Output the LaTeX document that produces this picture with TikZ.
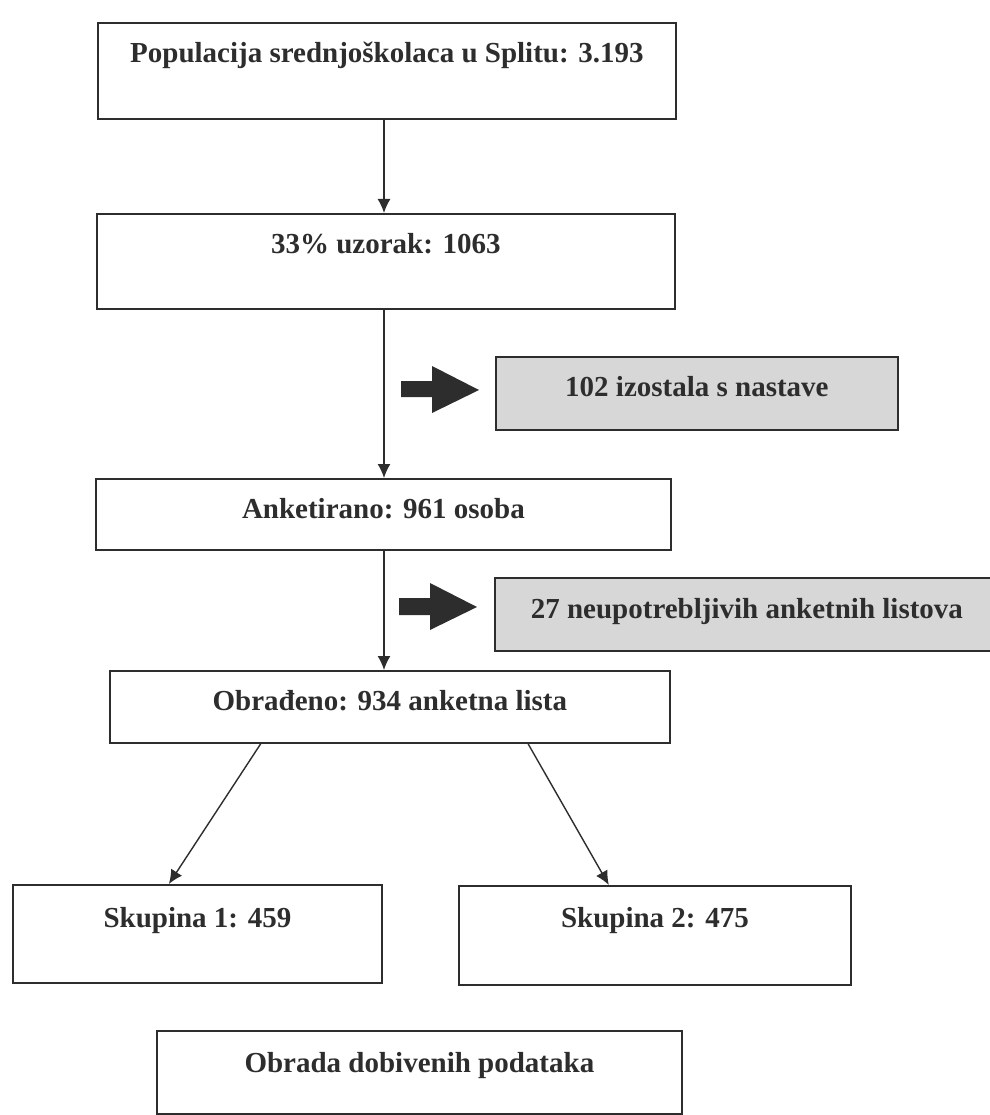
\documentclass[tikz,border=0pt]{standalone}
\usepackage{fontspec}
\setmainfont{Liberation Serif}
\usetikzlibrary{arrows.meta,calc}
\definecolor{ink}{RGB}{45,45,45}
\definecolor{shade}{RGB}{215,215,215}
\tikzset{
  flowbox/.style={draw=ink, line width=1.8pt, inner xsep=0pt, inner ysep=0pt,
    anchor=north west, font=\fontsize{29}{34}\selectfont\bfseries, text=ink},
  greybox/.style={flowbox, fill=shade},
  conn/.style={draw=ink, line width=1.4pt, -{Latex[length=14pt,width=13pt]}},
  blockarrow/.style={fill=ink}
}
\begin{document}
\begin{tikzpicture}[x=1pt,y=-1pt]
\useasboundingbox (0,0) rectangle (989,1115);
\coordinate (vx) at (384,0);
% boxes: (L,T), width R-L, text height = baseline-T, depth = B-baseline
\node[flowbox, minimum width=578pt, text height=40pt, text depth=56pt] (b1) at (97,22) {Populacija srednjoškolaca u Splitu: 3.193};
\node[flowbox, minimum width=578pt, text height=40pt, text depth=55pt] (b2) at (96,213) {33\% uzorak: 1063};
\node[greybox, minimum width=402pt, text height=40pt, text depth=33pt] (g1) at (495,356) {102 izostala s nastave};
\node[flowbox, minimum width=575pt, text height=40pt, text depth=31pt] (b3) at (95,478) {Anketirano: 961 osoba};
\node[greybox, minimum width=504pt, text height=41pt, text depth=32pt] (g2) at (494,577) {27 neupotrebljivih anketnih listova};
\node[flowbox, minimum width=560pt, text height=40pt, text depth=32pt] (b4) at (109,670) {Obrađeno: 934 anketna lista};
\node[flowbox, minimum width=369pt, text height=43pt, text depth=55pt] (s1) at (12,884) {Skupina 1: 459};
\node[flowbox, minimum width=392pt, text height=42pt, text depth=57pt] (s2) at (458,885) {Skupina 2: 475};
\node[flowbox, minimum width=525pt, text height=42pt, text depth=41pt] (ob) at (156,1030) {Obrada dobivenih podataka};
% vertical connectors
\draw[conn] (b1.south -| vx) -- (b2.north -| vx);
\draw[conn] (b2.south -| vx) -- (b3.north -| vx);
\draw[conn] (b3.south -| vx) -- (b4.north -| vx);
% diagonal connectors
\draw[conn] ($(b4.south west)!0.27!(b4.south east)$) -- ($(s1.north west)!0.423!(s1.north east)$);
\draw[conn] ($(b4.south west)!0.746!(b4.south east)$) -- ($(s2.north west)!0.383!(s2.north east)$);
% block arrows
\fill[blockarrow] (401,381) -- (432,381) -- (432,366) -- (479,390) -- (432,413) -- (432,397) -- (401,397) -- cycle;
\fill[blockarrow] (399,598) -- (430,598) -- (430,583) -- (477,607) -- (430,630) -- (430,615) -- (399,615) -- cycle;
\end{tikzpicture}
\end{document}
